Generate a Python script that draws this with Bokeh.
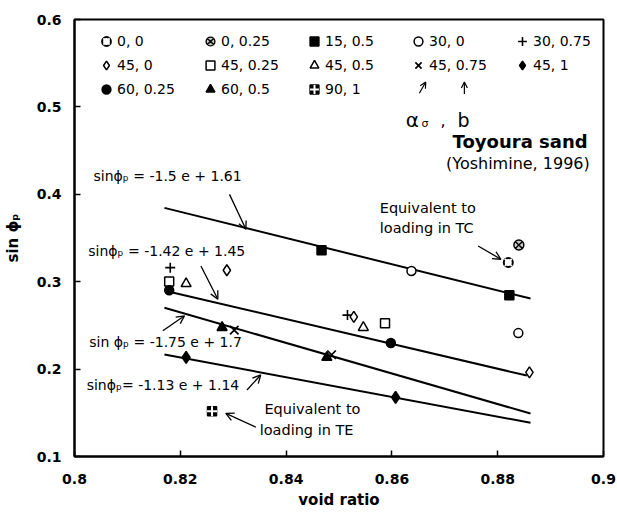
from bokeh.plotting import figure
from bokeh.models import (Range1d, FixedTicker, Legend, LegendItem, Label,
                          Arrow, OpenHead)
from bokeh.embed import file_html
from bokeh.resources import INLINE

# ---------------------------------------------------------------- data
x_ticks = [0.8, 0.82, 0.84, 0.86, 0.88, 0.9]
x_tick_labels = ["0.8", "0.82", "0.84", "0.86", "0.88", "0.9"]
y_ticks = [0.1, 0.2, 0.3, 0.4, 0.5, 0.6]
y_tick_labels = ["0.1", "0.2", "0.3", "0.4", "0.5", "0.6"]

# test series, labelled "alpha_sigma, b"
series_labels = ["0, 0", "0, 0.25", "15, 0.5", "30, 0", "30, 0.75",
                 "45, 0", "45, 0.25", "45, 0.5", "45, 0.75", "45, 1",
                 "60, 0.25", "60, 0.5", "90, 1"]

e_0_0 = [0.882]
s_0_0 = [0.322]
e_0_025 = [0.884]
s_0_025 = [0.342]
e_15_05 = [0.8467, 0.8822]
s_15_05 = [0.336, 0.2846]
e_30_0 = [0.8637, 0.8839]
s_30_0 = [0.3123, 0.2412]
e_30_075 = [0.8181, 0.8516]
s_30_075 = [0.3161, 0.2618]
e_45_0 = [0.8288, 0.8528, 0.886]
s_45_0 = [0.3131, 0.2598, 0.1962]
e_45_025 = [0.8179, 0.8587]
s_45_025 = [0.3001, 0.2526]
e_45_05 = [0.8211, 0.8546]
s_45_05 = [0.2978, 0.2476]
e_45_075 = [0.8302, 0.8486]
s_45_075 = [0.2446, 0.2164]
e_45_1 = [0.8211, 0.8607]
s_45_1 = [0.2134, 0.1677]
e_60_025 = [0.8179, 0.8598]
s_60_025 = [0.2903, 0.2298]
e_60_05 = [0.8279, 0.8477]
s_60_05 = [0.2476, 0.2134]
e_90_1 = [0.826]
s_90_1 = [0.1517]

# linear fits  sin(phi_p) = slope * e + intercept
fit_slopes = [-1.5, -1.42, -1.75, -1.13]
fit_intercepts = [1.61, 1.45, 1.7, 1.14]
fit_e_start = [0.817, 0.8179, 0.817, 0.817]
fit_e_end = [0.8862, 0.8855, 0.8862, 0.8862]

# ---------------------------------------------------------------- figure
FONT = "DejaVu Sans"

p = figure(width=617, height=521,
           x_range=Range1d(0.8, 0.9), y_range=Range1d(0.1, 0.6),
           output_backend="svg", toolbar_location=None,
           min_border_left=71, min_border_right=14,
           min_border_top=19, min_border_bottom=65)
p.grid.visible = False
p.background_fill_color = "white"
p.border_fill_color = "white"
p.outline_line_color = "black"
p.outline_line_width = 2

for ax, ticks, labels in ((p.xaxis, x_ticks, x_tick_labels),
                          (p.yaxis, y_ticks, y_tick_labels)):
    ax.ticker = FixedTicker(ticks=ticks)
    ax.major_label_overrides = dict(zip(ticks, labels))
    ax.major_tick_in = 6
    ax.major_tick_out = 0
    ax.minor_tick_line_color = None
    ax.axis_line_width = 2
    ax.axis_line_color = "black"
    ax.major_tick_line_width = 1.5
    ax.major_tick_line_color = "black"
    ax.major_label_text_font = FONT
    ax.major_label_text_font_style = "bold"
    ax.major_label_text_font_size = "14px"
    ax.major_label_text_color = "black"
    ax.axis_label_text_font = FONT
    ax.axis_label_text_font_style = "bold"
    ax.axis_label_text_font_size = "15px"
    ax.axis_label_text_color = "black"

p.xaxis.axis_label = "void ratio"
p.xaxis.major_label_standoff = 17
p.xaxis.axis_label_standoff = 4
p.yaxis.axis_label = "sin ϕₚ"
p.yaxis.major_label_standoff = 13
p.yaxis.axis_label_standoff = 12

# ---------------------------------------------------------------- fit lines
for m, c, e0, e1 in zip(fit_slopes, fit_intercepts, fit_e_start, fit_e_end):
    p.line(x=[e0, e1], y=[m * e0 + c, m * e1 + c],
           line_color="black", line_width=2)

# ---------------------------------------------------------------- markers
BLACK = "black"


def dots(e, s, marker, size, fill, lw=1.5):
    return p.scatter(x=e, y=s, marker=marker, size=size,
                     fill_color=fill, line_color=BLACK, line_width=lw)


def overlay(e, s, marker, size, lw):
    return p.scatter(x=e, y=s, marker=marker, size=size,
                     fill_color=None, line_color="white", line_width=lw)


renderers = [
    [dots(e_0_0, s_0_0, "circle", 9, "white", 2),
     overlay(e_0_0, s_0_0, "x", 10, 1.6)],
    [dots(e_0_025, s_0_025, "circle_x", 10, "#c8c8c8", 1.4)],
    [dots(e_15_05, s_15_05, "square", 9, BLACK)],
    [dots(e_30_0, s_30_0, "circle", 9, "white")],
    [dots(e_30_075, s_30_075, "cross", 10, None, 1.6)],
    [dots(e_45_0, s_45_0, "diamond", 11, "white")],
    [dots(e_45_025, s_45_025, "square", 9, "white")],
    [dots(e_45_05, s_45_05, "triangle", 10, "white")],
    [dots(e_45_075, s_45_075, "x", 12, None, 1.7)],
    [dots(e_45_1, s_45_1, "diamond", 12, BLACK)],
    [dots(e_60_025, s_60_025, "circle", 9, BLACK)],
    [dots(e_60_05, s_60_05, "triangle", 10, BLACK)],
    [dots(e_90_1, s_90_1, "square", 9, BLACK),
     overlay(e_90_1, s_90_1, "cross", 10, 2)],
]

legend = Legend(
    items=[LegendItem(label=lab, renderers=rs)
           for lab, rs in zip(series_labels, renderers)],
    orientation="horizontal", ncols=5,
    location=(21, 356), margin=0, padding=0, spacing=2,
    glyph_width=22, glyph_height=22, label_height=22, label_width=80,
    label_standoff=-4,
    label_text_font=FONT, label_text_font_size="14px",
    label_text_color="black",
    border_line_color=None, background_fill_alpha=0,
)
p.add_layout(legend)

# ---------------------------------------------------------------- annotations


def note(x, y, text, size="14px", align="left", style="normal",
         baseline="middle"):
    p.add_layout(Label(x=x, y=y, text=text, text_font=FONT,
                       text_font_size=size, text_font_style=style,
                       text_align=align, text_baseline=baseline,
                       text_color="black"))


def pointer(x0, y0, x1, y1, head=8, lw=1.3):
    p.add_layout(Arrow(x_start=x0, y_start=y0, x_end=x1, y_end=y1,
                       line_width=lw, line_color="black",
                       end=OpenHead(size=head, line_width=lw,
                                    line_color="black")))


eq_prefix = ["sinϕₚ = ", "sinϕₚ = ", "sin ϕₚ = ", "sinϕₚ= "]
eq_pos = [(0.8036, 0.4208), (0.8026, 0.3352), (0.8028, 0.2305),
          (0.8023, 0.1822)]
eq_arrows = [(0.8293, 0.3999, 0.8324, 0.3599),
             (0.8239, 0.3180, 0.8271, 0.2800),
             (0.8167, 0.2438, 0.8208, 0.2610),
             (0.8326, 0.1761, 0.8352, 0.1933)]
for pre, m, c, (x, y), arr in zip(eq_prefix, fit_slopes, fit_intercepts,
                                  eq_pos, eq_arrows):
    note(x, y, f"{pre}{m:g} e + {c:g}")
    pointer(*arr)

note(0.8970, 0.4607, "Toyoura sand", size="18px", align="right",
     style="bold")
note(0.8974, 0.4356, "(Yoshimine, 1996)", size="16px", align="right")

note(0.8577, 0.3843, "Equivalent to", size="14.5px")
note(0.8577, 0.3614, "loading in TC", size="14.5px")
pointer(0.8763, 0.3409, 0.8806, 0.3257)

note(0.8359, 0.1548, "Equivalent to", size="14.5px")
note(0.8350, 0.1308, "loading in TE", size="14.5px")
pointer(0.8343, 0.1335, 0.8286, 0.1494)

# key to the legend entries: alpha_sigma , b
note(0.8626, 0.4848, "α", size="20px", baseline="alphabetic")
note(0.8656, 0.4805, "σ", size="11px", baseline="alphabetic")
note(0.8692, 0.4848, ",", size="16px", baseline="alphabetic")
note(0.8724, 0.4848, "b", size="19px", baseline="alphabetic")
pointer(0.8652, 0.5156, 0.8664, 0.5285, head=6, lw=1.2)
pointer(0.8737, 0.5148, 0.8737, 0.5285, head=6, lw=1.2)

open("out.html", "w").write(file_html(p, INLINE))
